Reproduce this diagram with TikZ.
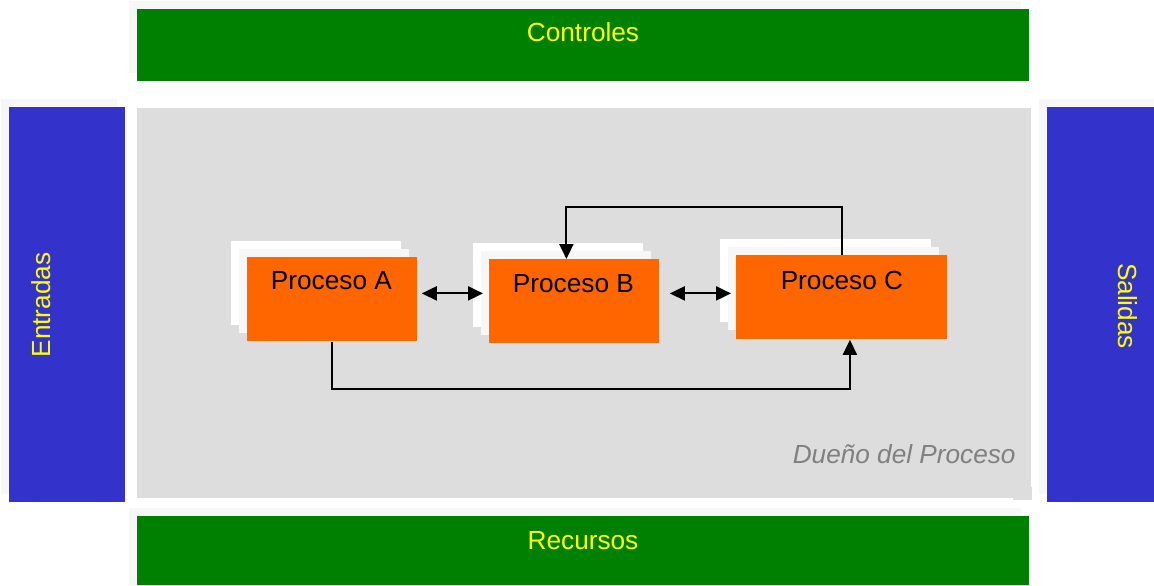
\documentclass[tikz,border=0pt]{standalone}
\usepackage{fontspec}
\setmainfont{Liberation Sans}
\usetikzlibrary{calc,arrows.meta}
\definecolor{ggreen}{RGB}{0,128,0}
\definecolor{bblue}{RGB}{51,51,204}
\definecolor{oorange}{RGB}{255,102,0}
\definecolor{ppanel}{RGB}{221,221,221}
\definecolor{shad}{RGB}{247,247,247}
\definecolor{ttxt}{RGB}{255,255,0}
\tikzset{
  band/.style={draw=none, inner sep=0pt, anchor=north west},
  proc/.style={fill=oorange, draw=none, inner sep=0pt, anchor=north west, minimum width=85pt, minimum height=42pt},
  ptext/.style={anchor=base, font=\fontsize{13.1}{15}\selectfont, text=black, inner sep=0pt},
  ytext/.style={font=\fontsize{13.1}{15}\selectfont, text=ttxt, inner sep=0pt},
  conn/.style={line width=1pt, draw=black},
  tip/.style={-{Triangle[length=7.5pt,width=7pt]}},
  dtip/.style={{Triangle[length=7.5pt,width=7pt]}-{Triangle[length=7.5pt,width=7pt]}}
}
\begin{document}
\begin{tikzpicture}[x=0.5pt,y=-0.5pt]
\useasboundingbox (0,0) rectangle (1154,585);
\fill[white] (0,0) rectangle (1154,585);
% shadows
\fill[shad] (129,1) rectangle (1021,73);
\fill[shad] (129,508) rectangle (1021,585);
\fill[shad] (1,99) rectangle (117,494);
\fill[shad] (1039,99) rectangle (1154,494);
% bands
\node[band, fill=ggreen, minimum width=446pt, minimum height=36pt] (ctrl) at (137,9) {};
\node[band, fill=ggreen, minimum width=446pt, minimum height=34.5pt] (rec) at (137,516) {};
\node[band, fill=bblue, minimum width=58pt, minimum height=197.5pt] (ent) at (9,107) {};
\node[band, fill=bblue, minimum width=53.5pt, minimum height=197.5pt] (sal) at (1047,107) {};
\node[band, fill=ppanel, minimum width=447pt, minimum height=195pt] (panel) at (137,108) {};
\fill[ppanel] (1013,487) rectangle (1032,500);
% band texts
\node[ytext, anchor=base] (tctrl) at (583,41) {Controles};
\node[ytext, anchor=base] (trec) at (583,549) {Recursos};
\node[ytext, rotate=90] (tent) at (41,305) {Entradas};
\node[ytext, rotate=-90] (tsal) at (1128,306) {Salidas};
\node[anchor=base east, inner sep=0pt, font=\fontsize{13.1}{15}\selectfont\itshape, text={rgb,255:red,128;green,128;blue,128}] (owner) at (1016,463) {Dueño del Proceso};
% process back sheets
\fill[white] (231,241) rectangle (401,325);
\fill[shad] (239,249) rectangle (409,333);
\fill[white] (473,243) rectangle (643,327);
\fill[shad] (481,251) rectangle (651,335);
\fill[white] (720,239) rectangle (931,322);
\fill[shad] (728,247) rectangle (939,330);
% processes
\node[proc] (pA) at (247,257) {};
\node[proc] (pB) at (489,259) {};
\node[proc, minimum width=105.5pt] (pC) at (736,255) {};
\node[ptext] (tA) at ($(pA.north)+(-1,32)$) {Proceso A};
\node[ptext] (tB) at ($(pB.north)+(-1,33)$) {Proceso B};
\node[ptext] (tC) at ($(pC.north)+(0,34)$) {Proceso C};
% connectors
\draw[conn, dtip] ($(pA.east)+(4,-6)$) -- ($(pB.west)+(-6,-8)$);
\draw[conn, dtip] ($(pB.east)+(10,-8)$) -- ($(pC.west)+(-5,-4)$);
\draw[conn, tip] (pC.north) -- ++(0,-48) -| ($(pB.north)+(-8,0)$);
\draw[conn, tip] (pA.south) -- ++(0,47) -| ($(pC.south)+(8,0)$);
\end{tikzpicture}
\end{document}
